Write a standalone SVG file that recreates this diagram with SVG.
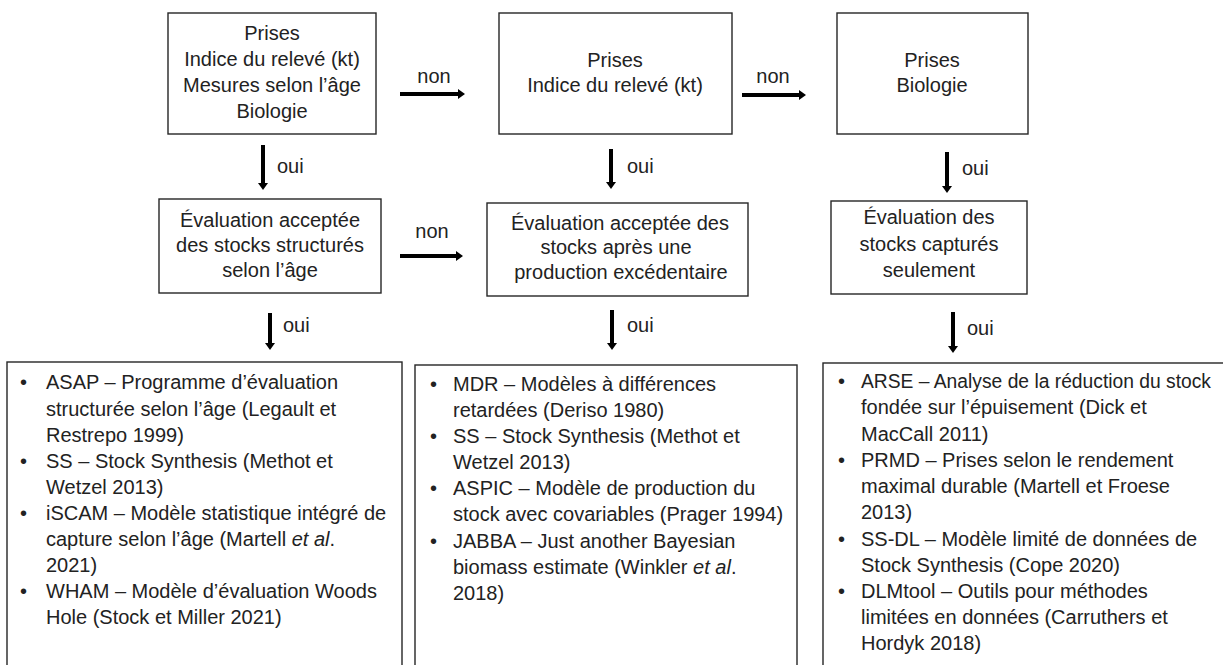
<svg xmlns="http://www.w3.org/2000/svg" width="1223" height="665" viewBox="0 0 1223 665">
<style>
.box{fill:#fff;stroke:#262626;stroke-width:1.4}
text{font-family:"Liberation Sans",Arial,sans-serif;font-size:20px;fill:#222}
.c{text-anchor:middle}
.conn line{stroke:#000;stroke-width:4}
.it{font-style:italic}
</style>
<defs>
<marker id="ah" markerUnits="userSpaceOnUse" markerWidth="8" markerHeight="11" refX="0.5" refY="5.5" orient="auto" viewBox="0 0 8 11">
<path d="M0,0.5 L7,5.5 L0,10.5 z" fill="#000"/>
</marker>
</defs>
<rect width="1223" height="665" fill="#fff"/>

<g id="n-a1">
<rect class="box" x="168" y="13" width="208" height="121"/>
<text class="c" x="272" y="40">Prises</text>
<text class="c" x="272" y="66">Indice du relevé (kt)</text>
<text class="c" x="272" y="92">Mesures selon l’âge</text>
<text class="c" x="272" y="118">Biologie</text>
</g>
<g id="n-b1">
<rect class="box" x="499" y="13" width="233" height="121"/>
<text class="c" x="615" y="67">Prises</text>
<text class="c" x="615" y="92">Indice du relevé (kt)</text>
</g>
<g id="n-c1">
<rect class="box" x="837" y="13" width="191" height="121"/>
<text class="c" x="932" y="67">Prises</text>
<text class="c" x="932" y="92">Biologie</text>
</g>

<g id="n-a2">
<rect class="box" x="159" y="199" width="222" height="94"/>
<text class="c" x="270" y="227">Évaluation acceptée</text>
<text class="c" x="270" y="252">des stocks structurés</text>
<text class="c" x="270" y="277">selon l’âge</text>
</g>
<g id="n-b2">
<rect class="box" x="487" y="203" width="261" height="93"/>
<text class="c" x="620" y="230">Évaluation acceptée des</text>
<text class="c" x="616" y="254">stocks après une</text>
<text class="c" x="621" y="279">production excédentaire</text>
</g>
<g id="n-c2">
<rect class="box" x="831" y="201" width="196" height="93"/>
<text class="c" x="929" y="224">Évaluation des</text>
<text class="c" x="929" y="251">stocks capturés</text>
<text class="c" x="929" y="277">seulement</text>
</g>

<g id="n-a3">
<rect class="box" x="7" y="362" width="395" height="320"/>
<text x="20" y="389">•</text>
<text x="46" y="389">ASAP – Programme d’évaluation</text>
<text x="46" y="416">structurée selon l’âge (Legault et</text>
<text x="46" y="442">Restrepo 1999)</text>
<text x="20" y="468">•</text>
<text x="46" y="468">SS – Stock Synthesis (Methot et</text>
<text x="46" y="494">Wetzel 2013)</text>
<text x="20" y="520">•</text>
<text x="46" y="520">iSCAM – Modèle statistique intégré de</text>
<text x="46" y="546">capture selon l’âge (Martell <tspan class="it">et al</tspan>.</text>
<text x="46" y="572">2021)</text>
<text x="20" y="598">•</text>
<text x="46" y="598">WHAM – Modèle d’évaluation Woods</text>
<text x="46" y="624">Hole (Stock et Miller 2021)</text>
</g>

<g id="n-b3">
<rect class="box" x="415" y="365" width="382" height="320"/>
<text x="430" y="391">•</text>
<text x="453" y="391">MDR – Modèles à différences</text>
<text x="453" y="417">retardées (Deriso 1980)</text>
<text x="430" y="443">•</text>
<text x="453" y="443">SS – Stock Synthesis (Methot et</text>
<text x="453" y="469">Wetzel 2013)</text>
<text x="430" y="495">•</text>
<text x="453" y="495">ASPIC – Modèle de production du</text>
<text x="453" y="521">stock avec covariables (Prager 1994)</text>
<text x="430" y="548">•</text>
<text x="453" y="548">JABBA – Just another Bayesian</text>
<text x="453" y="574">biomass estimate (Winkler <tspan class="it">et al</tspan>.</text>
<text x="453" y="600">2018)</text>
</g>

<g id="n-c3">
<rect class="box" x="823" y="363" width="420" height="320"/>
<text x="838" y="388">•</text>
<text x="861" y="388" textLength="350" lengthAdjust="spacingAndGlyphs">ARSE – Analyse de la réduction du stock</text>
<text x="861" y="414">fondée sur l’épuisement (Dick et</text>
<text x="861" y="441">MacCall 2011)</text>
<text x="838" y="467">•</text>
<text x="861" y="467">PRMD – Prises selon le rendement</text>
<text x="861" y="493">maximal durable (Martell et Froese</text>
<text x="861" y="519">2013)</text>
<text x="838" y="546">•</text>
<text x="861" y="546">SS-DL – Modèle limité de données de</text>
<text x="861" y="572">Stock Synthesis (Cope 2020)</text>
<text x="838" y="598">•</text>
<text x="861" y="598">DLMtool – Outils pour méthodes</text>
<text x="861" y="624">limitées en données (Carruthers et</text>
<text x="861" y="650">Hordyk 2018)</text>
</g>

<g id="connectors" class="conn">
<line x1="400" y1="94" x2="458.5" y2="94" marker-end="url(#ah)"/>
<text class="c" x="434" y="83">non</text>
<line x1="742" y1="95" x2="799.5" y2="95" marker-end="url(#ah)"/>
<text class="c" x="773" y="83">non</text>
<line x1="400" y1="256" x2="456.5" y2="256" marker-end="url(#ah)"/>
<text class="c" x="432" y="238">non</text>

<line x1="263" y1="145" x2="263" y2="183.5" marker-end="url(#ah)"/>
<text x="277" y="173">oui</text>
<line x1="611" y1="149" x2="611" y2="182.5" marker-end="url(#ah)"/>
<text x="627" y="173">oui</text>
<line x1="947" y1="152" x2="947" y2="186.5" marker-end="url(#ah)"/>
<text x="962" y="175">oui</text>

<line x1="270" y1="313" x2="270" y2="343.5" marker-end="url(#ah)"/>
<text x="283" y="332">oui</text>
<line x1="612" y1="310" x2="612" y2="343.5" marker-end="url(#ah)"/>
<text x="627" y="332">oui</text>
<line x1="953" y1="312" x2="953" y2="346.5" marker-end="url(#ah)"/>
<text x="967" y="335">oui</text>
</g>
</svg>
